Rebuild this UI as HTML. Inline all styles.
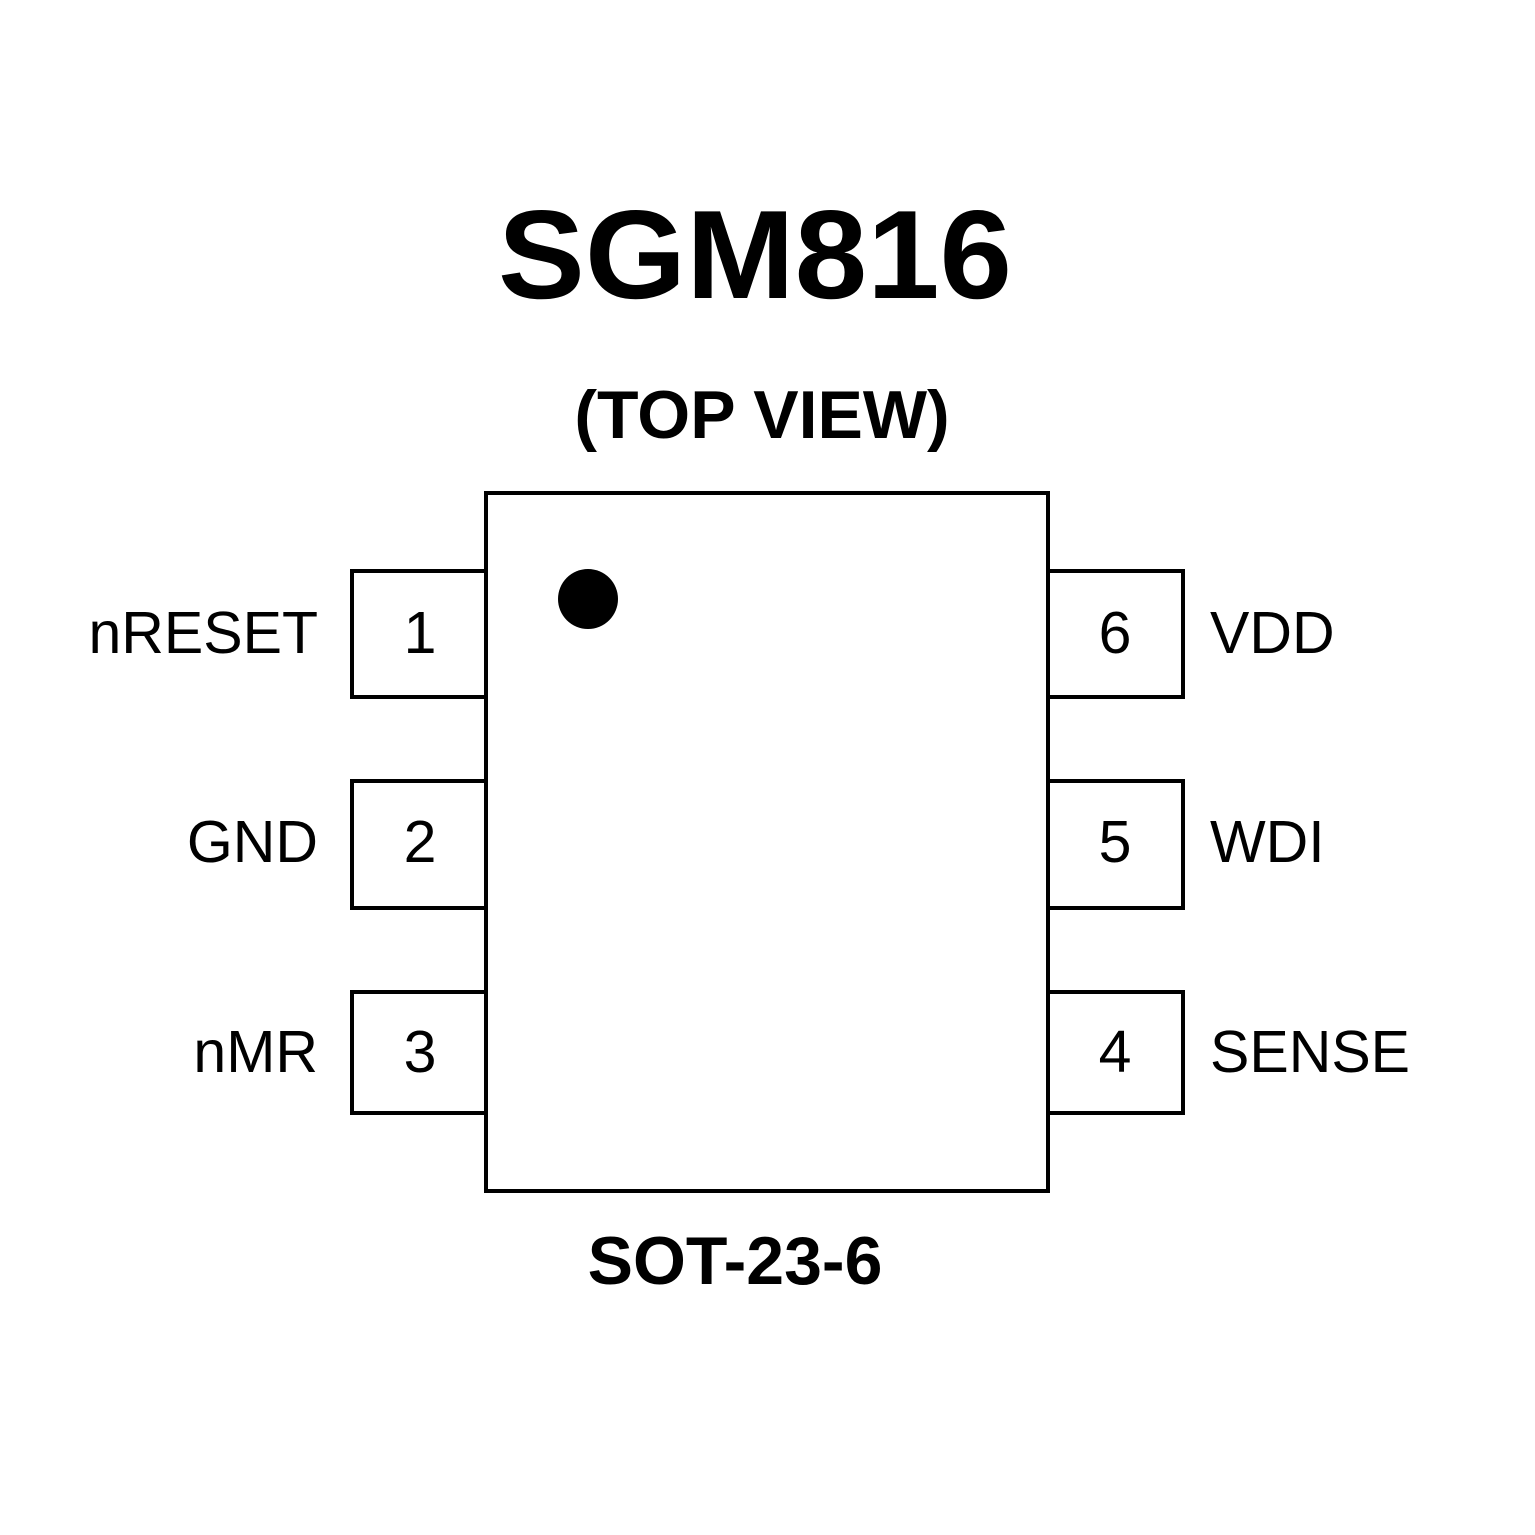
<!DOCTYPE html>
<html><head><meta charset="utf-8"><style>
html,body{margin:0;padding:0;background:#fff;}
svg{display:block;}
text{font-family:"Liberation Sans",Arial,sans-serif;fill:#000;}
</style></head><body>
<svg width="1535" height="1535" viewBox="0 0 1535 1535" xmlns="http://www.w3.org/2000/svg">
<rect width="1535" height="1535" fill="#fff"/>
<text x="498" y="298" font-size="126" font-weight="bold" textLength="514" lengthAdjust="spacingAndGlyphs">SGM816</text>
<text x="762" y="438" font-size="68" font-weight="bold" text-anchor="middle">(TOP VIEW)</text>
<g fill="#fff" stroke="#000" stroke-width="4">
<rect x="352" y="571" width="134" height="126"/>
<rect x="352" y="781" width="134" height="127"/>
<rect x="352" y="992" width="134" height="121"/>
<rect x="1048" y="571" width="135" height="126"/>
<rect x="1048" y="781" width="135" height="127"/>
<rect x="1048" y="992" width="135" height="121"/>
<rect x="486" y="493" width="562" height="698"/>
</g>
<circle cx="588" cy="599" r="30" fill="#000"/>
<g font-size="59">
<text x="318" y="653" text-anchor="end">nRESET</text>
<text x="318" y="862" text-anchor="end">GND</text>
<text x="318" y="1072" text-anchor="end">nMR</text>
<text x="420" y="653" text-anchor="middle">1</text>
<text x="420" y="862" text-anchor="middle">2</text>
<text x="420" y="1072" text-anchor="middle">3</text>
<text x="1115" y="653" text-anchor="middle">6</text>
<text x="1115" y="862" text-anchor="middle">5</text>
<text x="1115" y="1072" text-anchor="middle">4</text>
<text x="1210" y="653">VDD</text>
<text x="1210" y="862">WDI</text>
<text x="1210" y="1072">SENSE</text>
</g>
<text x="735" y="1284" font-size="68" font-weight="bold" text-anchor="middle">SOT-23-6</text>
</svg>
</body></html>
